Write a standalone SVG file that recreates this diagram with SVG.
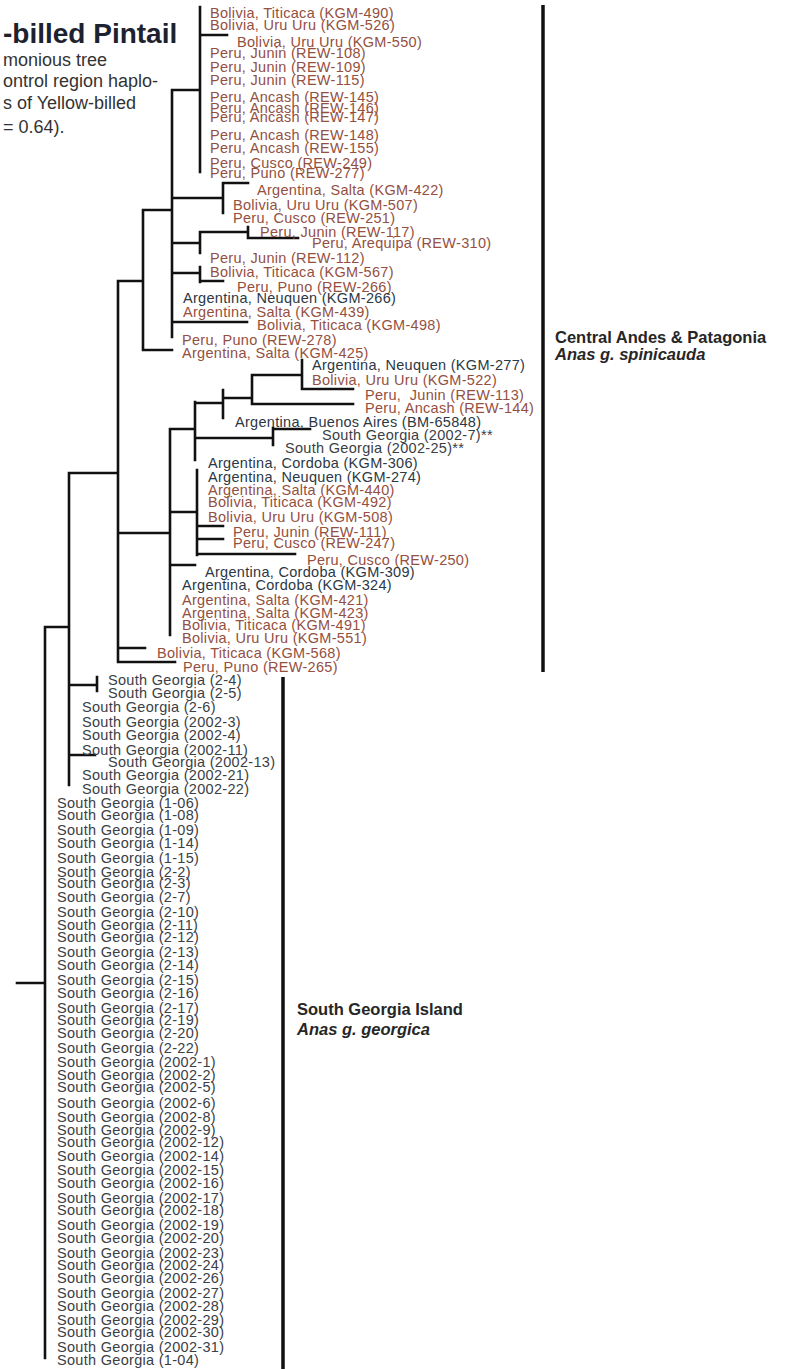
<svg xmlns="http://www.w3.org/2000/svg" width="812" height="1369" viewBox="0 0 812 1369">
  <style>
    text { font-family: "Liberation Sans", Arial, sans-serif; }
    .lbl { font-size: 14.5px; letter-spacing: 0.3px; }
    .an { fill: #94503f; }
    .pa { fill: #2c3844; }
    .sg { fill: #3a4046; }
    .title { font-size: 28px; font-weight: bold; fill: #1c2230; }
    .sub { font-size: 18px; fill: #333; }
    .clade { font-size: 16.5px; font-weight: bold; fill: #262626; }
    .clade-i { font-size: 16.5px; font-weight: bold; font-style: italic; fill: #262626; }
    .br { fill: none; stroke: #111; stroke-width: 2.6; stroke-linecap: square; }
    .bar { fill: none; stroke: #111; stroke-width: 3.5; }
  </style>
  <rect width="812" height="1369" fill="#fff"/>

  <g id="heading">
    <text class="title" x="3" y="43">-billed Pintail</text>
    <text class="sub" x="3" y="66">monious tree</text>
    <text class="sub" x="3" y="87">ontrol region haplo-</text>
    <text class="sub" x="3" y="109">s of Yellow-billed</text>
    <text class="sub" x="3" y="133">= 0.64).</text>
  </g>

  <g id="connectors">
    <path class="br" d="M200 7V172 M200 35H227 M172 90H200 M172 90V337
      M172 198H223 M223 183V213 M223 183H248
      M172 243H200 M200 232V253 M200 232H248 M248 227V238 M248 238H298
      M172 273H200 M200 267V282 M200 281H223
      M172 322H247
      M143 210H172 M143 210V350 M143 350H172
      M118 281H143 M118 281V662
      M118 533H170 M170 429V635
      M170 429H195 M195 402V460
      M195 403H223 M223 390V418 M223 398H252 M252 375V404 M252 375H302 M302 360V389 M302 389H353 M252 404H353
      M195 438H273 M273 428V445 M273 429H310
      M170 512H197 M197 470V555 M197 526H223 M197 539H223 M197 554H295
      M170 565H195
      M118 648H145 M118 662H175
      M69 473H118 M69 473V785
      M69 685H97 M97 677V691
      M69 755H95
      M45 627H69 M45 627V1358
      M17 983H45"/>
  </g>

  <g id="clade-andes">
    <path class="bar" d="M543 5V672"/>
    <text class="clade" x="555" y="343">Central Andes &amp; Patagonia</text>
    <text class="clade-i" x="555" y="360">Anas g. spinicauda</text>
  </g>
  <g id="clade-georgia">
    <path class="bar" d="M283 677V1369"/>
    <text class="clade" x="297" y="1015">South Georgia Island</text>
    <text class="clade-i" x="297" y="1035">Anas g. georgica</text>
  </g>

  <g id="taxa-andes" class="lbl">
    <text class="an" x="210" y="18">Bolivia, Titicaca (KGM-490)</text>
    <text class="an" x="210" y="30">Bolivia, Uru Uru (KGM-526)</text>
    <text class="an" x="237" y="47">Bolivia, Uru Uru (KGM-550)</text>
    <text class="an" x="210" y="58">Peru, Junin (REW-108)</text>
    <text class="an" x="210" y="72">Peru, Junin (REW-109)</text>
    <text class="an" x="210" y="85">Peru, Junin (REW-115)</text>
    <text class="an" x="210" y="102">Peru, Ancash (REW-145)</text>
    <text class="an" x="210" y="113">Peru, Ancash (REW-146)</text>
    <text class="an" x="210" y="122">Peru, Ancash (REW-147)</text>
    <text class="an" x="210" y="140">Peru, Ancash (REW-148)</text>
    <text class="an" x="210" y="153">Peru, Ancash (REW-155)</text>
    <text class="an" x="210" y="168">Peru, Cusco (REW-249)</text>
    <text class="an" x="210" y="178">Peru, Puno (REW-277)</text>
    <text class="an" x="257" y="195">Argentina, Salta (KGM-422)</text>
    <text class="an" x="233" y="210">Bolivia, Uru Uru (KGM-507)</text>
    <text class="an" x="233" y="223">Peru, Cusco (REW-251)</text>
    <text class="an" x="260" y="237">Peru, Junin (REW-117)</text>
    <text class="an" x="312" y="248">Peru, Arequipa (REW-310)</text>
    <text class="an" x="210" y="263">Peru, Junin (REW-112)</text>
    <text class="an" x="210" y="277">Bolivia, Titicaca (KGM-567)</text>
    <text class="an" x="237" y="292">Peru, Puno (REW-266)</text>
    <text class="pa" x="183" y="303">Argentina, Neuquen (KGM-266)</text>
    <text class="an" x="183" y="317">Argentina, Salta (KGM-439)</text>
    <text class="an" x="257" y="330">Bolivia, Titicaca (KGM-498)</text>
    <text class="an" x="182" y="345">Peru, Puno (REW-278)</text>
    <text class="an" x="182" y="358">Argentina, Salta (KGM-425)</text>
    <text class="pa" x="312" y="370">Argentina, Neuquen (KGM-277)</text>
    <text class="an" x="312" y="385">Bolivia, Uru Uru (KGM-522)</text>
    <text class="an" x="365" y="400" xml:space="preserve">Peru,  Junin (REW-113)</text>
    <text class="an" x="365" y="413">Peru, Ancash (REW-144)</text>
    <text class="pa" x="235" y="427">Argentina, Buenos Aires (BM-65848)</text>
    <text class="sg" x="322" y="440">South Georgia (2002-7)**</text>
    <text class="sg" x="285" y="453">South Georgia (2002-25)**</text>
    <text class="pa" x="208" y="468">Argentina, Cordoba (KGM-306)</text>
    <text class="pa" x="208" y="482">Argentina, Neuquen (KGM-274)</text>
    <text class="an" x="208" y="495">Argentina, Salta (KGM-440)</text>
    <text class="an" x="208" y="507">Bolivia, Titicaca (KGM-492)</text>
    <text class="an" x="208" y="522">Bolivia, Uru Uru (KGM-508)</text>
    <text class="an" x="233" y="537">Peru, Junin (REW-111)</text>
    <text class="an" x="233" y="548">Peru, Cusco (REW-247)</text>
    <text class="an" x="307" y="565">Peru, Cusco (REW-250)</text>
    <text class="pa" x="205" y="577">Argentina, Cordoba (KGM-309)</text>
    <text class="pa" x="182" y="590">Argentina, Cordoba (KGM-324)</text>
    <text class="an" x="182" y="605">Argentina, Salta (KGM-421)</text>
    <text class="an" x="182" y="618">Argentina, Salta (KGM-423)</text>
    <text class="an" x="182" y="630">Bolivia, Titicaca (KGM-491)</text>
    <text class="an" x="182" y="643">Bolivia, Uru Uru (KGM-551)</text>
    <text class="an" x="157" y="658">Bolivia, Titicaca (KGM-568)</text>
    <text class="an" x="183" y="672">Peru, Puno (REW-265)</text>
  </g>

  <g id="taxa-georgia" class="lbl sg">
    <text x="108" y="685">South Georgia (2-4)</text>
    <text x="108" y="698">South Georgia (2-5)</text>
    <text x="82" y="712">South Georgia (2-6)</text>
    <text x="82" y="727">South Georgia (2002-3)</text>
    <text x="82" y="740">South Georgia (2002-4)</text>
    <text x="82" y="755">South Georgia (2002-11)</text>
    <text x="108" y="767">South Georgia (2002-13)</text>
    <text x="82" y="780">South Georgia (2002-21)</text>
    <text x="82" y="794">South Georgia (2002-22)</text>
    <text x="57" y="808">South Georgia (1-06)</text>
    <text x="57" y="820">South Georgia (1-08)</text>
    <text x="57" y="835">South Georgia (1-09)</text>
    <text x="57" y="848">South Georgia (1-14)</text>
    <text x="57" y="863">South Georgia (1-15)</text>
    <text x="57" y="877">South Georgia (2-2)</text>
    <text x="57" y="888">South Georgia (2-3)</text>
    <text x="57" y="902">South Georgia (2-7)</text>
    <text x="57" y="917">South Georgia (2-10)</text>
    <text x="57" y="930">South Georgia (2-11)</text>
    <text x="57" y="942">South Georgia (2-12)</text>
    <text x="57" y="957">South Georgia (2-13)</text>
    <text x="57" y="970">South Georgia (2-14)</text>
    <text x="57" y="985">South Georgia (2-15)</text>
    <text x="57" y="998">South Georgia (2-16)</text>
    <text x="57" y="1013">South Georgia (2-17)</text>
    <text x="57" y="1025">South Georgia (2-19)</text>
    <text x="57" y="1038">South Georgia (2-20)</text>
    <text x="57" y="1053">South Georgia (2-22)</text>
    <text x="57" y="1067">South Georgia (2002-1)</text>
    <text x="57" y="1080">South Georgia (2002-2)</text>
    <text x="57" y="1092">South Georgia (2002-5)</text>
    <text x="57" y="1108">South Georgia (2002-6)</text>
    <text x="57" y="1122">South Georgia (2002-8)</text>
    <text x="57" y="1135">South Georgia (2002-9)</text>
    <text x="57" y="1147">South Georgia (2002-12)</text>
    <text x="57" y="1161">South Georgia (2002-14)</text>
    <text x="57" y="1175">South Georgia (2002-15)</text>
    <text x="57" y="1188">South Georgia (2002-16)</text>
    <text x="57" y="1203">South Georgia (2002-17)</text>
    <text x="57" y="1215">South Georgia (2002-18)</text>
    <text x="57" y="1230">South Georgia (2002-19)</text>
    <text x="57" y="1243">South Georgia (2002-20)</text>
    <text x="57" y="1258">South Georgia (2002-23)</text>
    <text x="57" y="1270">South Georgia (2002-24)</text>
    <text x="57" y="1283">South Georgia (2002-26)</text>
    <text x="57" y="1298">South Georgia (2002-27)</text>
    <text x="57" y="1311">South Georgia (2002-28)</text>
    <text x="57" y="1325">South Georgia (2002-29)</text>
    <text x="57" y="1337">South Georgia (2002-30)</text>
    <text x="57" y="1352">South Georgia (2002-31)</text>
    <text x="57" y="1365">South Georgia (1-04)</text>
  </g>
</svg>
